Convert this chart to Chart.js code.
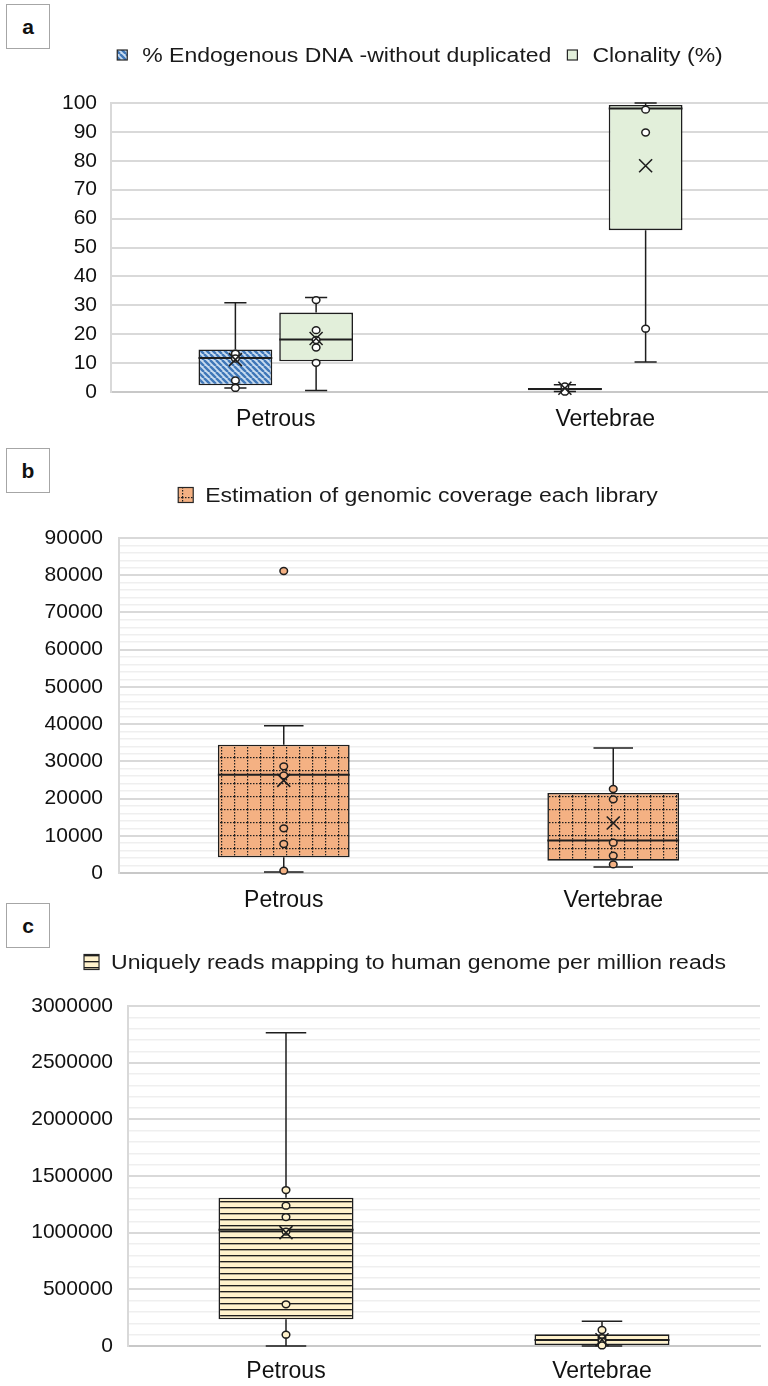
<!DOCTYPE html>
<html>
<head>
<meta charset="utf-8">
<script src="https://cdn.jsdelivr.net/npm/chart.js@4.4.1/dist/chart.umd.min.js"></script>
<style>
  html, body { margin: 0; padding: 0; background: #fff; width: 768px; height: 1386px; overflow: hidden; position: relative; }
  .panel { position: absolute; left: 0; width: 768px; overflow: hidden; }
  .panel canvas { position: absolute; left: 0; top: 0; }
  .tag { position: absolute; left: 6px; width: 42px; height: 43px; border: 1px solid #a6a6a6; background: #fff;
         font: bold 21px "Liberation Sans", Arial, sans-serif; color: #111;
         display: flex; align-items: center; justify-content: center; box-sizing: content-box; }
</style>
</head>
<body>
<div class="panel" style="top:0;height:445px"><canvas id="chartA" width="780" height="445"></canvas></div>
<div class="panel" style="top:445px;height:475px"><canvas id="chartB" width="790" height="475"></canvas></div>
<div class="panel" style="top:895px;height:491px"><canvas id="chartC" width="768" height="491"></canvas></div>
<div class="tag" style="top:4px">a</div>
<div class="tag" style="top:448px">b</div>
<div class="tag" style="top:903px">c</div>
<script>
// ---- data ----
const categories = ['Petrous', 'Vertebrae'];

// a: % endogenous DNA (without duplicates) and clonality (%)
const endoLabel = '% Endogenous DNA -without duplicated';
const endoMin = [1.4, 0.2];
const endoQ1 = [2.3, 0.6];
const endoMedian = [11.8, 1.0];
const endoQ3 = [14.7, 1.4];
const endoMax = [30.9, 2.5];
const endoMean = [11.2, 1.3];
const endoPoints = [[13.3, 11.6, 4.0, 1.4], [1.9, 0.1]];

const cloLabel = 'Clonality (%)';
const cloMin = [0.5, 10.4];
const cloQ1 = [10.6, 56.0];
const cloMedian = [18.2, 98.1];
const cloQ3 = [27.5, 99.3];
const cloMax = [32.7, 100];
const cloMean = [18.5, 78.3];
const cloPoints = [[31.8, 21.4, 18.0, 15.4, 10.1], [97.7, 89.8, 21.9]];

// b: estimation of genomic coverage per library
const covLabel = 'Estimation of genomic coverage each library';
const covMin = [300, 1610];
const covQ1 = [4200, 3300];
const covMedian = [26400, 8760];
const covQ3 = [34470, 21490];
const covMax = [39580, 33580];
const covMean = [24880, 13430];
const covPoints = [[81140, 28650, 26230, 11990, 7790, 620], [22570, 19780, 8140, 4650, 2310]];

// c: uniquely mapped reads per million reads
const readsLabel = 'Uniquely reads mapping to human genome per million reads';
const readsMin = [0, 0];
const readsQ1 = [235000, 9000];
const readsMedian = [1025000, 53000];
const readsQ3 = [1309000, 103000];
const readsMax = [2765000, 218000];
const readsMean = [1000000, 55000];
const readsPoints = [[1376000, 1238000, 1138000, 1010000, 368000, 100000], [141000, 70000, 40000, 5000]];

// axis ranges: [max, minor step, labelled step]
const axisA = [100, 10, 10];
const axisB = [90000, 2000, 10000];
const axisC = [3000000, 100000, 500000];

// ---- fills ----
function makePattern(w, h, paint) {
  const c = document.createElement('canvas');
  c.width = w; c.height = h;
  const g = c.getContext('2d');
  paint(g, w, h);
  return g.createPattern(c, 'repeat');
}
const blueHatch = makePattern(6, 6, (g, w, h) => {
  g.fillStyle = '#c9dcf0'; g.fillRect(0, 0, w, h);
  g.strokeStyle = '#3f77b8'; g.lineWidth = 2.4;
  g.beginPath();
  for (const k of [-6, 0, 6]) { g.moveTo(k, 0); g.lineTo(k + 6, 6); }
  g.stroke();
});
const greenFill = '#e2efda';
const orangeGrid = makePattern(13, 13, (g, w, h) => {
  g.fillStyle = '#f4b183'; g.fillRect(0, 0, w, h);
  g.fillStyle = '#1e1e1e';
  for (let i = 0; i < 13; i += 3) { g.fillRect(i, 0, 1.5, 1.2); g.fillRect(0, i, 1.2, 1.5); }
});
const yellowLines = makePattern(4, 6, (g, w, h) => {
  g.fillStyle = '#fff2cc'; g.fillRect(0, 0, w, h);
  g.fillStyle = '#1e1e1e'; g.fillRect(0, 0, w, 1);
  g.fillStyle = 'rgba(30,30,30,0.35)'; g.fillRect(0, 1, w, 1);
});

// ---- box plot details: whiskers, median, points, mean marker ----
const boxExtras = {
  id: 'boxExtras',
  afterDatasetsDraw(chart) {
    const ctx = chart.ctx, y = chart.scales.y;
    chart.data.datasets.forEach((ds, di) => {
      const st = ds.stats;
      chart.getDatasetMeta(di).data.forEach((bar, i) => {
        const cx = bar.x, half = bar.width / 2, cap = bar.width * 0.15;
        const yQ3 = y.getPixelForValue(st.q3[i]), yQ1 = y.getPixelForValue(st.q1[i]);
        const yMax = y.getPixelForValue(st.max[i]), yMin = y.getPixelForValue(st.min[i]);
        const yMed = y.getPixelForValue(st.median[i]);
        ctx.save();
        ctx.strokeStyle = '#1e1e1e';
        ctx.lineWidth = 1.5;
        ctx.beginPath();
        ctx.moveTo(cx, yQ3); ctx.lineTo(cx, yMax);
        ctx.moveTo(cx - cap, yMax); ctx.lineTo(cx + cap, yMax);
        ctx.moveTo(cx, yQ1); ctx.lineTo(cx, yMin);
        ctx.moveTo(cx - cap, yMin); ctx.lineTo(cx + cap, yMin);
        ctx.stroke();
        ctx.lineWidth = 2;
        ctx.beginPath();
        ctx.moveTo(cx - half, yMed); ctx.lineTo(cx + half, yMed);
        ctx.stroke();
        // individual values
        ctx.lineWidth = 1.5;
        ctx.fillStyle = st.pointFill;
        st.points[i].forEach(v => {
          ctx.beginPath();
          ctx.ellipse(cx, y.getPixelForValue(v), 3.8, 3.4, 0, 0, Math.PI * 2);
          ctx.fill(); ctx.stroke();
        });
        // mean
        const yMean = y.getPixelForValue(st.mean[i]), m = 6.5;
        ctx.lineWidth = 1.6;
        ctx.beginPath();
        ctx.moveTo(cx - m, yMean - m); ctx.lineTo(cx + m, yMean + m);
        ctx.moveTo(cx - m, yMean + m); ctx.lineTo(cx + m, yMean - m);
        ctx.stroke();
        ctx.restore();
      });
    });
  }
};

// ---- legend row centred above each plot ----
const rowLegend = {
  id: 'rowLegend',
  afterDraw(chart, args, o) {
    const ctx = chart.ctx;
    ctx.save();
    ctx.font = o.font;
    const items = chart.data.datasets.map(ds => ({
      text: ds.label, fill: ds.backgroundColor,
      w: ctx.measureText(ds.label).width * o.stretch
    }));
    const total = items.reduce((s, it) => s + o.box + o.gap + it.w, 0) + o.spacing * (items.length - 1);
    let x = o.centerX - total / 2;
    const yc = o.centerY;
    items.forEach(it => {
      ctx.fillStyle = it.fill;
      ctx.fillRect(x, yc - o.box / 2, o.box, o.box);
      ctx.strokeStyle = '#262626'; ctx.lineWidth = 1.2;
      ctx.strokeRect(x, yc - o.box / 2, o.box, o.box);
      x += o.box + o.gap;
      ctx.save();
      ctx.translate(x, yc);
      ctx.scale(o.stretch, 1);
      ctx.fillStyle = '#1a1a1a';
      ctx.textBaseline = 'middle';
      ctx.fillText(it.text, 0, 1);
      ctx.restore();
      x += it.w + o.spacing;
    });
    ctx.restore();
  }
};

function boxDataset(label, fill, pointFill, min, q1, median, q3, max, mean, points) {
  return {
    label, backgroundColor: fill, borderColor: '#1e1e1e', borderWidth: 1.6, borderSkipped: false,
    data: categories.map((c, i) => [q1[i], q3[i]]),
    stats: { min, q1, median, q3, max, mean, points, pointFill }
  };
}

function makeChart(id, datasets, axis, geo) {
  const [max, step, major] = axis;
  const font = '"Liberation Sans", Arial, sans-serif';
  return new Chart(document.getElementById(id), {
    type: 'bar',
    data: { labels: categories, datasets },
    options: {
      responsive: false, animation: false, devicePixelRatio: 1,
      events: [],
      categoryPercentage: geo.cat, barPercentage: geo.bar,
      layout: { padding: { top: geo.top, left: 0, right: geo.right, bottom: 0 } },
      plugins: {
        legend: { display: false }, tooltip: { enabled: false },
        rowLegend: { font: '20px ' + font, stretch: 1.15, box: geo.box, gap: geo.gap, spacing: 16,
                     centerX: geo.legendX, centerY: geo.legendY }
      },
      scales: {
        x: {
          grid: { display: false, drawTicks: false },
          border: { display: true, color: '#c8c8c8', width: 2 },
          ticks: { font: { family: font, size: 23 }, color: '#111', padding: geo.xPad },
          afterFit(s) { s.height = geo.xH; }
        },
        y: {
          min: 0, max,
          grid: {
            drawTicks: false,
            color: c => (Math.round(c.tick.value) % major === 0 ? '#d9d9d9' : '#efefef'),
            lineWidth: c => (Math.round(c.tick.value) % major === 0 ? 2 : 1.5)
          },
          border: { display: true, color: '#d9d9d9', width: 2 },
          ticks: {
            stepSize: step, autoSkip: false, padding: geo.yPad,
            font: { family: font, size: 21 }, color: '#111',
            callback: v => (Math.round(v) % major === 0 ? String(Math.round(v)) : '')
          },
          afterFit(s) { s.width = geo.yW; }
        }
      }
    },
    plugins: [boxExtras, rowLegend]
  });
}

makeChart('chartA', [
  boxDataset(endoLabel, blueHatch, '#ffffff', endoMin, endoQ1, endoMedian, endoQ3, endoMax, endoMean, endoPoints),
  boxDataset(cloLabel, greenFill, '#ffffff', cloMin, cloQ1, cloMedian, cloQ3, cloMax, cloMean, cloPoints)
], axisA, { top: 103, right: 10, yW: 111, xH: 53, yPad: 14, xPad: 14, cat: 0.49, bar: 0.914,
            box: 10, gap: 15, legendX: 420, legendY: 55 });

makeChart('chartB', [
  boxDataset(covLabel, orangeGrid, '#f4b183', covMin, covQ1, covMedian, covQ3, covMax, covMean, covPoints)
], axisB, { top: 93, right: 12, yW: 119, xH: 47, yPad: 16, xPad: 14, cat: 0.8, bar: 0.5,
            box: 15, gap: 12, legendX: 418, legendY: 50 });

makeChart('chartC', [
  boxDataset(readsLabel, yellowLines, '#fff2cc', readsMin, readsQ1, readsMedian, readsQ3, readsMax, readsMean, readsPoints)
], axisC, { top: 111, right: 8, yW: 128, xH: 40, yPad: 15, xPad: 12, cat: 0.8, bar: 0.534,
            box: 15, gap: 12, legendX: 405, legendY: 67 });
</script>
</body>
</html>
